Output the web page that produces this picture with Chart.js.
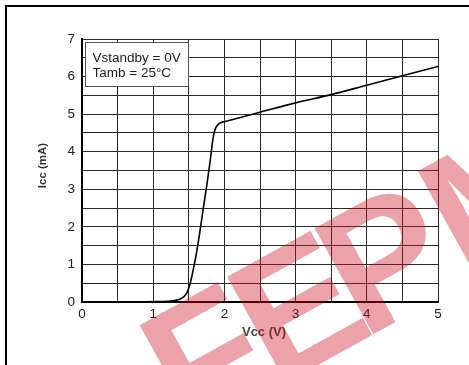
<!DOCTYPE html>
<html><head><meta charset="utf-8">
<script src="https://cdn.jsdelivr.net/npm/chart.js@4/dist/chart.umd.min.js"></script>
<style>html,body{margin:0;padding:0;background:#fff;}#wrap{width:469px;height:365px;position:relative;}</style>
</head><body><div id="wrap"><canvas id="c" width="469" height="365"></canvas></div>
<script>
const vcc = [0, 0.5, 1.0, 1.2, 1.3, 1.38, 1.44, 1.48, 1.52, 1.55, 1.6, 1.65, 1.7, 1.75, 1.8, 1.84, 1.87, 1.91, 1.96, 2.0, 2.5, 3.0, 3.5, 4.0, 4.5, 5.0];
const icc = [0, 0, 0.01, 0.02, 0.04, 0.08, 0.16, 0.27, 0.5, 0.75, 1.22, 1.8, 2.45, 3.07, 3.75, 4.35, 4.6, 4.72, 4.78, 4.8, 5.05, 5.3, 5.52, 5.77, 6.02, 6.27];
const legendLines = ['Vstandby = 0V', 'Tamb = 25°C'];
const xTitle = 'Vcc (V)';
const yTitle = 'Icc (mA)';
const watermarkLetters = ['F', 'E', 'P', 'M'];
const watermarkOffsets = [0, 100, 200, 318];

const FONT = '"Liberation Sans", Arial, sans-serif';

const framePlugin = {
  id: 'frame',
  beforeDraw(chart) {
    const ctx = chart.ctx;
    ctx.save();
    ctx.fillStyle = '#fff';
    ctx.fillRect(0, 0, chart.width, chart.height);
    ctx.fillStyle = '#000';
    ctx.fillRect(5, 5, 2, chart.height - 5);
    ctx.fillRect(5, 5, chart.width - 5, 2);
    ctx.restore();
  },
  afterDatasetsDraw(chart) {
    const ctx = chart.ctx;
    const xs = chart.scales.x, ys = chart.scales.y;
    const bx = Math.round(xs.getPixelForValue(0)) + 3.5;
    const by = Math.round(ys.getPixelForValue(7)) + 3.5;
    ctx.save();
    ctx.fillStyle = '#fff';
    ctx.strokeStyle = '#555';
    ctx.lineWidth = 1;
    ctx.fillRect(bx, by, 103, 44);
    ctx.strokeRect(bx, by, 103, 44);
    ctx.fillStyle = '#222';
    ctx.font = '13.5px ' + FONT;
    ctx.textBaseline = 'alphabetic';
    ctx.fillText(legendLines[0], bx + 7, by + 19);
    ctx.fillText(legendLines[1], bx + 7, by + 34);
    // axis titles
    const ca = chart.chartArea;
    ctx.font = 'bold 13px ' + FONT;
    ctx.fillStyle = '#444';
    ctx.textAlign = 'center';
    ctx.textBaseline = 'middle';
    ctx.fillText(xTitle, (ca.left + ca.right) / 2 + 4, ca.bottom + 30);
    ctx.save();
    ctx.translate(42.5, (ca.top + ca.bottom) / 2 - 5);
    ctx.rotate(-Math.PI / 2);
    ctx.font = 'bold 11.5px ' + FONT;
    ctx.fillStyle = '#333';
    ctx.fillText(yTitle, 0, 0);
    ctx.restore();
    ctx.restore();
  },
  afterDraw(chart) {
    const ctx = chart.ctx;
    ctx.save();
    ctx.translate(188, 437);
    ctx.rotate(-0.506);
    ctx.fillStyle = 'rgba(205,10,30,0.38)';
    ctx.font = 'bold 176px ' + FONT;
    ctx.textBaseline = 'alphabetic';
    watermarkLetters.forEach((ch, i) => ctx.fillText(ch, watermarkOffsets[i], 0));
    ctx.restore();
  }
};

new Chart(document.getElementById('c'), {
  type: 'line',
  data: {
    datasets: [{
      data: vcc.map((v, i) => ({x: v, y: icc[i]})),
      borderColor: '#000',
      borderWidth: 1.6,
      pointRadius: 0,
      fill: false,
      cubicInterpolationMode: 'monotone'
    }]
  },
  options: {
    responsive: false,
    animation: false,
    events: [],
    layout: {padding: {left: 0, top: 39, right: 31, bottom: 23}},
    plugins: {legend: {display: false}, tooltip: {enabled: false}},
    scales: {
      x: {
        type: 'linear', min: 0, max: 5,
        afterFit(s) { s.height = 40; },
        ticks: {stepSize: 0.5, autoSkip: false, maxRotation: 0, padding: 4, color: '#222',
          font: {family: FONT, size: 13.5},
          callback: v => Number.isInteger(v) ? String(v) : ''},
        grid: {color: '#2a2a2a', lineWidth: 1, drawTicks: false},
        border: {color: '#000', width: 2},
        title: {display: false}
      },
      y: {
        type: 'linear', min: 0, max: 7,
        afterFit(s) { s.width = 82; },
        ticks: {stepSize: 0.5, autoSkip: false, padding: 7, color: '#222',
          font: {family: FONT, size: 13.5},
          callback: v => Number.isInteger(v) ? String(v) : ''},
        grid: {color: '#2a2a2a', lineWidth: 1, drawTicks: false},
        border: {color: '#000', width: 2},
        title: {display: false}
      }
    }
  },
  plugins: [framePlugin]
});
</script>
</body></html>
